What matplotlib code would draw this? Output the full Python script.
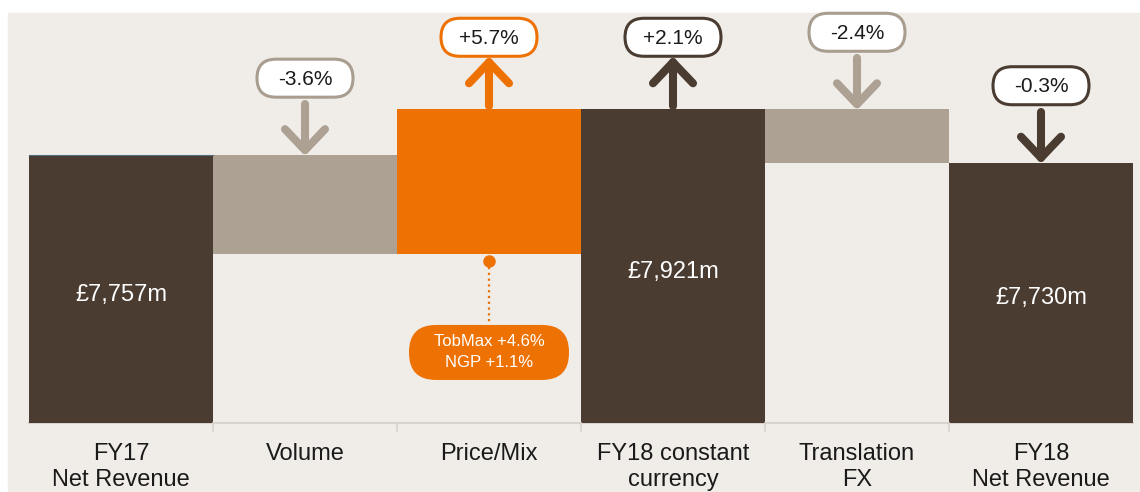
import numpy as np
import matplotlib.pyplot as plt
from matplotlib.patches import FancyBboxPatch, Rectangle

plt.rcParams['font.family'] = ['Liberation Sans', 'DejaVu Sans']

# waterfall data (chart is drawn on a broken scale, levels)
categories = ['FY17\nNet Revenue', 'Volume', 'Price/Mix', 'FY18 constant\ncurrency',
              'Translation\nFX', 'FY18\nNet Revenue']
bar_bottom = [6800, 7404, 7404, 6800, 7730, 6800]
bar_top = [7757, 7757, 7921, 7921, 7921, 7730]
value_labels = ['£7,757m', None, None, '£7,921m', None, '£7,730m']
change_labels = [None, '-3.6%', '+5.7%', '+2.1%', '-2.4%', '-0.3%']
split_labels = ['TobMax +4.6%', 'NGP +1.1%']

dark = '#4A3C31'
grey = '#ADA194'
orange = '#EE7203'
bg = '#F0ECE8'
txt = '#1A1A1A'
bar_colors = [dark, grey, orange, dark, grey, dark]
badge_edges = [None, '#A99D90', orange, dark, '#A99D90', dark]

fig = plt.figure(figsize=(11.4, 4.92), dpi=100)
fig.patches.append(Rectangle((8/1140, 0), 1, 479/492, transform=fig.transFigure,
                             color=bg, zorder=-10))

ax = fig.add_axes([29/1140, 69/492, 1104/1140, 410/492], zorder=1)
ax.set_xlim(-0.5, 5.5)
ax.set_ylim(6800, 8265)
ax.axis('off')

# overlay in pixel units for badges, arrows and labels
ov = fig.add_axes([0, 0, 1, 1], zorder=3)
ov.set_xlim(0, 1140)
ov.set_ylim(492, 0)
ov.axis('off')
ov.patch.set_alpha(0)

def to_px(x, y):
    return ov.transData.inverted().transform(ax.transData.transform((x, y)))

x = np.arange(len(categories))
heights = np.array(bar_top) - np.array(bar_bottom)
ax.bar(x, heights, bottom=bar_bottom, width=1.0, color=bar_colors, zorder=2)

# thin blue-ish edge on top of first bar
x0, y0 = to_px(-0.5, bar_top[0])
x1, _ = to_px(0.5, bar_top[0])
ov.plot([x0, x1], [y0, y0], color='#4F6B80', lw=0.8, zorder=1)

# base line and ticks
bx0, by = to_px(-0.5, 6800)
ax.plot([-0.5, 5.5], [6800, 6800], color='#D8D3CE', lw=1.5, zorder=1, clip_on=False)
for i in range(1, len(categories)):
    tx, _ = to_px(i - 0.5, 6800)
    ov.plot([tx, tx], [by, by + 8], color='#D8D3CE', lw=1.2)

for i, lab in enumerate(categories):
    px, py = to_px(i, 6800)
    ov.text(px, py + 20, lab, ha='center', va='top', fontsize=17, color=txt,
            linespacing=1.22)

for i, lab in enumerate(value_labels):
    if lab:
        px, py = to_px(i, (bar_bottom[i] + bar_top[i]) / 2)
        ov.text(px, py + 3, lab, ha='center', va='center_baseline',
                fontsize=17, color='white', zorder=4)

# change badges with arrows
for i, lab in enumerate(change_labels):
    if not lab:
        continue
    px, top = to_px(i, bar_top[i])
    col = bar_colors[i]
    up = lab.startswith('+')
    if up:
        base, tip = top - 3, top - 47
        arm = 21
        cy = top - 72
    else:
        base, tip = top - 51, top - 5
        arm = -21
        cy = top - 77
    ov.plot([px, px], [base, tip], color=col, lw=5.8, solid_capstyle='round')
    ov.plot([px - 20, px, px + 20], [tip + arm, tip, tip + arm], color=col, lw=5.8,
            solid_capstyle='round', solid_joinstyle='round')
    pill = FancyBboxPatch((px - 48, cy - 19), 96, 38,
                          boxstyle='round,pad=0,rounding_size=19',
                          facecolor='white', edgecolor=badge_edges[i], lw=2.2)
    ov.add_patch(pill)
    ov.text(px, cy + 1, lab, ha='center', va='center', fontsize=15, color=txt)

# Price/Mix split callout
px, pb = to_px(2, bar_bottom[2])
ov.plot([px], [pb + 7], 'o', color=orange, ms=8)
ov.plot([px, px], [pb + 13, pb + 68], color=orange, lw=1.6, ls=(0, (1, 1.6)))
call = FancyBboxPatch((px - 80, pb + 71), 160, 55,
                      boxstyle='round,pad=0,rounding_size=27',
                      facecolor=orange, edgecolor='none')
ov.add_patch(call)
ov.text(px, pb + 98, '\n'.join(split_labels), ha='center', va='center',
        fontsize=12, color='white', linespacing=1.45)

plt.savefig('out.png', dpi=100, facecolor='white')
